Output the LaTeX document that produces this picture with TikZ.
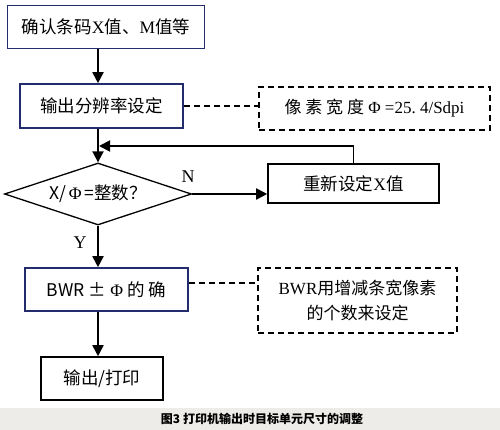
\documentclass[tikz,border=0pt]{standalone}
\usepackage{fontspec}
\setmainfont{Liberation Serif}
\newfontfamily\cjk{Noto Sans CJK SC}
\usetikzlibrary{shapes.geometric, arrows.meta, positioning}
\definecolor{boxblue}{RGB}{35,45,110}
\definecolor{captiongray}{RGB}{238,236,233}

\begin{document}
\begin{tikzpicture}[
    x=1pt, y=-1pt,
    stepbox/.style={draw=black, line width=1.6pt, fill=white, font=\fontsize{17.5}{20}\selectfont, align=center, inner sep=0pt},
    bluebox/.style={stepbox, draw=boxblue},
    notebox/.style={draw, line width=1.6pt, dash pattern=on 6pt off 4pt, font=\fontsize{17}{25}\selectfont, align=center, inner sep=0pt},
    decision/.style={draw, diamond, line width=1.3pt, aspect=3, minimum width=187pt, minimum height=62pt, inner sep=0pt, font=\fontsize{17.5}{20}\selectfont},
    arrow/.style={-{Triangle[length=11pt, width=11pt]}, line width=1.8pt},
    noteline/.style={line width=1.6pt, dash pattern=on 6pt off 4pt},
    mark label/.style={font=\fontsize{18}{20}\selectfont}
]
    \useasboundingbox (0,0) rectangle (500,430);
    \fill[captiongray] (0,408) rectangle (500,430);

    \node[bluebox, minimum width=197pt, minimum height=43pt] (confirm) at (106,27) {{\cjk 确认条码}X{\cjk 值、}M{\cjk 值等}};
    \node[bluebox, minimum width=163pt, minimum height=44pt] (resolution) at (101.5,106) {\cjk 输出分辨率设定};
    \node[notebox, minimum width=231pt, minimum height=43pt] (widthnote) at (374.5,108.5) {{\cjk 像\ 素\ 宽\ 度}\ Φ\ =25.\ 4/Sdpi};
    \node[decision] (check) at (98,194) {{\cjk X/}\,Φ\,{\cjk =整数？}};
    \node[stepbox, minimum width=171pt, minimum height=39pt] (reset) at (353.5,183.5) {{\cjk 重新设定}X{\cjk 值}};
    \node[bluebox, minimum width=163pt, minimum height=43pt] (bwr) at (106.5,289.5) {{\cjk BWR ±}\ Φ\ {\cjk 的\ 确}};
    \node[notebox, minimum width=199pt, minimum height=65pt] (bwrnote) at (357.5,300.5) {BWR{\cjk 用增减条宽像素}\\{\cjk 的个数来设定}};
    \node[stepbox, minimum width=122pt, minimum height=43pt] (output) at (102,378.5) {\cjk 输出/打印};
    \node[font=\fontsize{12}{14}\selectfont] (caption) at (262,419) {\cjk\bfseries 图3\ 打印机输出时目标单元尺寸的调整};

    \node[mark label] (nlabel) at (188,177) {N};
    \node[mark label] (ylabel) at (80,243) {Y};
    \coordinate (loopin) at (99,146);

    \draw[arrow] (confirm.south -| check.north) -- (resolution.north -| check.north);
    \draw[arrow] (resolution.south -| check.north) -- (check.north);
    \draw[arrow] (check.east) -- (check.east -| reset.west);
    \draw[arrow] (reset.north) |- (loopin);
    \draw[arrow] (check.south) -- (bwr.north -| check.south);
    \draw[arrow] (bwr.south -| check.south) -- (output.north -| check.south);
    \draw[noteline] (resolution.east) -- (resolution.east -| widthnote.west);
    \draw[noteline] ([yshift=6.5pt]bwr.east) -- ([yshift=6.5pt]bwr.east -| bwrnote.west);
\end{tikzpicture}
\end{document}
